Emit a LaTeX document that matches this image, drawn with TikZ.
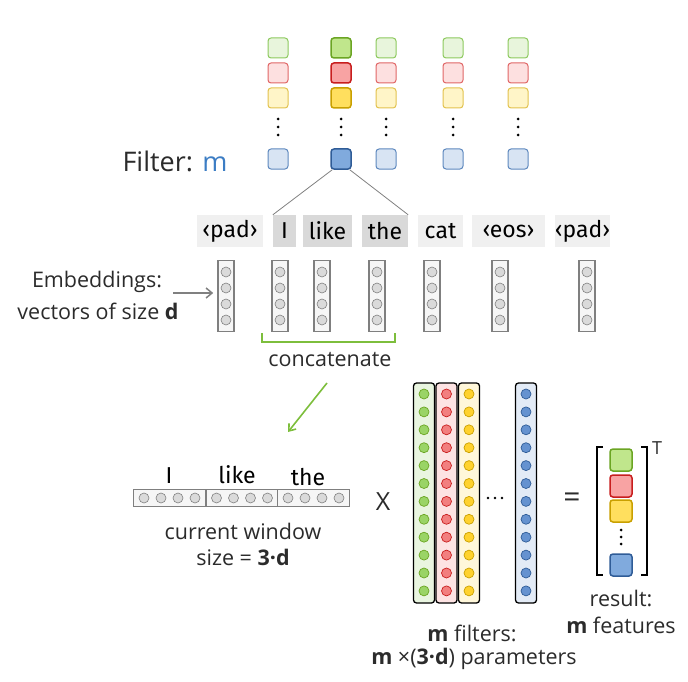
\documentclass[tikz,border=0pt]{standalone}
\usepackage{fontspec}
\setmainfont{Open Sans}
\newfontfamily\tokfont{Fira Sans}
\usetikzlibrary{arrows.meta}

\definecolor{txt}{HTML}{2B2B2B}
\definecolor{mblue}{HTML}{3C7DC4}
\definecolor{gLine}{HTML}{8DC95E}\definecolor{gFill}{HTML}{E8F5DC}
\definecolor{gLineD}{HTML}{6BA523}\definecolor{gFillD}{HTML}{C0E68C}
\definecolor{rLine}{HTML}{E06666}\definecolor{rFill}{HTML}{FDE0E0}
\definecolor{rLineD}{HTML}{C81E1E}\definecolor{rFillD}{HTML}{F8A3A3}
\definecolor{yLine}{HTML}{E2C24E}\definecolor{yFill}{HTML}{FFF5C8}
\definecolor{yLineD}{HTML}{C9A000}\definecolor{yFillD}{HTML}{FFDF5E}
\definecolor{bLine}{HTML}{5E88BE}\definecolor{bFill}{HTML}{D8E4F3}
\definecolor{bLineD}{HTML}{2F5C97}\definecolor{bFillD}{HTML}{80AADD}
\definecolor{gCol}{HTML}{E9F5E0}\definecolor{gDot}{HTML}{9AD466}
\definecolor{rCol}{HTML}{FDE3E3}\definecolor{rDot}{HTML}{F27F7F}
\definecolor{yCol}{HTML}{FFF7DA}\definecolor{yDot}{HTML}{FFD22E}
\definecolor{bCol}{HTML}{E3EBF6}\definecolor{bDot}{HTML}{6592D0}
\definecolor{tokLight}{HTML}{F0F0F0}
\definecolor{tokDark}{HTML}{D9D9D9}
\definecolor{vecLine}{HTML}{7F7F7F}
\definecolor{vecFill}{HTML}{F6F6F6}
\definecolor{embDot}{HTML}{DADADA}
\definecolor{conc}{HTML}{7DBE3C}

\tikzset{
  cell/.style 2 args={draw=#1, fill=#2, line width=1pt, rounded corners=3pt,
    minimum size=20pt, inner sep=0pt},
  tok/.style={fill=#1, font=\tokfont\fontsize{23}{24}\selectfont,
    minimum height=32pt, inner sep=0pt, text=black},
  vec/.style={draw=vecLine, fill=vecFill, line width=1.6pt,
    minimum width=16pt, minimum height=71pt, inner sep=0pt},
  seg/.style={draw=vecLine, fill=vecFill, line width=1.4pt,
    minimum width=72pt, minimum height=17pt, inner sep=0pt},
  emb/.style={draw=gray, fill=embDot, line width=0.6pt},
  fcol/.style={draw=black, fill=#1, line width=1.3pt, rounded corners=3pt,
    minimum width=21pt, minimum height=220pt, inner sep=0pt},
  label/.style={font=\fontsize{21.5}{24}\selectfont, text=txt, inner sep=1pt},
  wordtxt/.style={font=\tokfont\fontsize{23}{24}\selectfont, text=black, inner sep=0pt},
}

\begin{document}
\begin{tikzpicture}[x=1pt,y=-1pt]
\useasboundingbox (0,0) rectangle (688,682);

% filters on top
\foreach \x [count=\c] in {278,386,453,518} {
  \node[cell={gLine}{gFill}] (g\c) at (\x,48) {};
  \node[cell={rLine}{rFill}] (r\c) at (\x,73) {};
  \node[cell={yLine}{yFill}] (y\c) at (\x,98) {};
  \foreach \y in {119,127,135} \fill (\x,\y) circle (1.5pt);
  \node[cell={bLine}{bFill}] (b\c) at (\x,159) {};
}
\node[cell={gLineD}{gFillD}, line width=1.5pt] (gsel) at (341,48) {};
\node[cell={rLineD}{rFillD}, line width=1.5pt] (rsel) at (341,73) {};
\node[cell={yLineD}{yFillD}, line width=1.5pt] (ysel) at (341,98) {};
\foreach \y in {119,127,135} \fill (341,\y) circle (1.5pt);
\node[cell={bLineD}{bFillD}, line width=1.5pt] (bsel) at (341,159) {};

\node[label, font=\fontsize{27}{30}\selectfont] (filt) at (175,161) {Filter: \textcolor{mblue}{m}};

% words
\node[tok=tokLight, minimum width=66pt] (pad1) at (230,231) {‹pad›};
\node[tok=tokDark, minimum width=23pt] (wI) at (284.5,231) {I};
\node[tok=tokDark, minimum width=49pt] (wlike) at (327.5,231) {like};
\node[tok=tokDark, minimum width=46pt] (wthe) at (385,231) {the};
\node[tok=tokLight, minimum width=45pt] (wcat) at (440.5,231) {cat};
\node[tok=tokLight, minimum width=73pt] (eos) at (508.5,231) {‹eos›};
\node[tok=tokLight, minimum width=55pt] (pad2) at (582.5,231) {‹pad›};

\draw[gray, line width=0.8pt] ([xshift=2pt]bsel.south west) -- (wI.north west);
\draw[gray, line width=0.8pt] ([xshift=-2pt]bsel.south east) -- (wthe.north east);

% embeddings
\foreach \x [count=\i] in {226,280,322,377,432,500,587} {
  \node[vec] (v\i) at (\x,296) {};
  \foreach \y in {272,288,304,320} \draw[emb] (\x,\y) circle (5pt);
}

\node[label] (embA) at (97,282) {Embeddings:};
\node[label] (embB) at (98,311) {vectors of size \textbf{d}};
\coordinate (embtail) at (173,293);
\draw[gray, line width=1.5pt, -{Straight Barb[length=6pt,width=10pt]}] (embtail) -- ([xshift=-4pt]embtail -| v1.west);

% concatenate
\draw[conc, line width=1.6pt] (262,333) -- (262,342) -- (395,342) -- (395,333);
\node[label] (concat) at (330,360) {concatenate};
\coordinate (ctail) at (327,383);
\coordinate (chead) at (288,432);
\draw[conc, line width=1.6pt, -{Straight Barb[length=6pt,width=9pt]}] (ctail) -- (chead);

% current window
\foreach \x [count=\i] in {169.5,242,313.5} {
  \node[seg] (s\i) at (\x,498) {};
  \foreach \d in {-25.5,-8.5,8.5,25.5} \draw[emb] (\x+\d,498) circle (5pt);
}
\node[wordtxt, anchor=base] (tI) at (169,483) {I};
\node[wordtxt, anchor=base] (tlike) at (237,483) {like};
\node[wordtxt, anchor=base] (tthe) at (308,485) {the};
\node[label] (curwin) at (243,531) {current window};
\node[label] (winsize) at (243,557) {size = \textbf{3·d}};

\node[label, font=\fontsize{25}{28}\selectfont] (times) at (383,502) {X};

% filter matrix
\node[fcol=gCol] (fg) at (424,493) {};
\node[fcol=rCol] (fr) at (446.5,493) {};
\node[fcol=yCol] (fy) at (469,493) {};
\node[fcol=bCol] (fb) at (526,493) {};
\foreach \k in {0,...,11} {
  \draw[draw=gLineD, fill=gDot, line width=0.7pt] (424,394+17.9*\k) circle (5pt);
  \draw[draw=rLineD, fill=rDot, line width=0.7pt] (446.5,394+17.9*\k) circle (5pt);
  \draw[draw=yLineD, fill=yDot, line width=0.7pt] (469,394+17.9*\k) circle (5pt);
  \draw[draw=bLineD, fill=bDot, line width=0.7pt] (526,394+17.9*\k) circle (5pt);
}
\foreach \x in {488,495,502} \fill (\x,498) circle (1.3pt);

\node[label] (mfilt) at (472,633) {\textbf{m} filters:};
\node[label] (mparam) at (474,659) {\textbf{m} ×(\textbf{3·d}) parameters};

% result
\node[label, font=\fontsize{30}{32}\selectfont] (eq) at (572,500) {=};
\draw[black, line width=1.4pt] (603,447) -- (597,447) -- (597,575) -- (603,575);
\draw[black, line width=1.4pt] (641,447) -- (647,447) -- (647,575) -- (641,575);
\node[label, font=\fontsize{18}{20}\selectfont] (tr) at (657,448) {T};
\node[cell={gLineD}{gFillD}, line width=1.5pt, minimum size=22pt] (resg) at (621,460) {};
\node[cell={rLineD}{rFillD}, line width=1.5pt, minimum size=22pt] (resr) at (621,486) {};
\node[cell={yLineD}{yFillD}, line width=1.5pt, minimum size=22pt] (resy) at (621,511) {};
\foreach \y in {530,537,544} \fill (621,\y) circle (1.5pt);
\node[cell={bLineD}{bFillD}, line width=1.5pt, minimum size=22pt] (resb) at (621,565) {};

\node[label] (res) at (621,598) {result:};
\node[label] (mfeat) at (621,625) {\textbf{m} features};

\end{tikzpicture}
\end{document}
